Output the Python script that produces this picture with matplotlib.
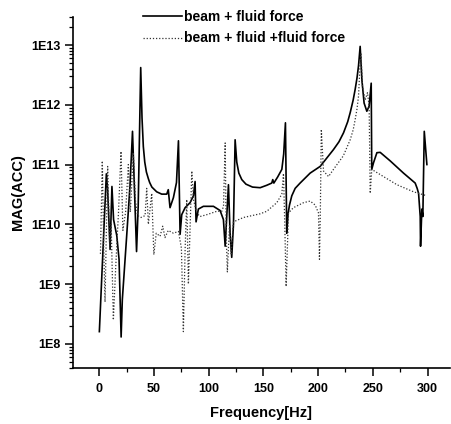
import matplotlib
matplotlib.use("Agg")
import matplotlib.pyplot as plt
from matplotlib.ticker import FixedLocator, FuncFormatter, LogLocator, MultipleLocator, NullFormatter

# ---- data ----
freq_solid = [0.0, 6.4, 7.5, 9.8, 11.5, 13.0, 15.9, 18.0, 19.9, 21.0, 25.0, 28.0, 30.3,
              34.0, 35.5, 37.8, 39.0, 40.2, 41.5, 43.0, 44.8, 46.0, 48.0, 52.4, 57.0,
              61.6, 63.0, 64.6, 67.7, 70.5, 72.3, 73.8, 75.3, 78.4, 82.9, 86.0, 87.5,
              88.4, 90.5, 95.1, 104.3, 110.4, 113.4, 115.0, 118.0, 119.5, 121.0, 122.6,
              124.1, 125.6, 127.5, 130.2, 134.0, 140.0, 147.0, 153.0, 157.6, 158.5,
              159.5, 163.0, 166.8, 168.5, 170.1, 171.3, 172.5, 173.8, 175.9, 179.0,
              183.5, 192.7, 201.8, 214.0, 219.0, 223.2, 227.0, 229.3, 232.0, 233.8,
              235.5, 236.9, 238.4, 240.0, 242.0, 244.5, 246.6, 248.5, 249.0, 250.6,
              253.7, 256.7, 265.9, 278.0, 285.0, 288.7, 290.5, 291.8, 293.3, 293.6,
              294.8, 295.7, 297.0, 299.4]
mag_solid = [1.6e8, 7.0e10, 4.0e10, 3.8e9, 4.3e10, 1.2e10, 6.5e9, 2.6e9, 1.3e8, 5.5e8,
             6.5e9, 4.4e10, 3.6e11, 3.5e9, 2.0e10, 4.2e12, 6.0e11, 2.0e11, 1.1e11,
             7.5e10, 5.8e10, 5.0e10, 4.2e10, 3.5e10, 3.2e10, 3.2e10, 3.8e10, 1.9e10,
             2.8e10, 5.0e10, 2.5e11, 6.8e9, 1.45e10, 1.9e10, 2.3e10, 3.0e10, 5.2e10,
             1.1e10, 1.8e10, 2.0e10, 2.0e10, 1.7e10, 1.2e10, 4.3e9, 4.6e10, 7.1e9,
             2.8e9, 1.0e10, 2.6e11, 1.1e11, 7.2e10, 5.6e10, 4.7e10, 4.2e10, 4.1e10,
             4.5e10, 4.9e10, 5.6e10, 4.9e10, 6.2e10, 8.3e10, 1.5e11, 5.0e11, 7.1e9,
             1.5e10, 2.1e10, 3.0e10, 4.0e10, 4.9e10, 7.2e10, 9.3e10, 1.78e11, 2.4e11,
             3.4e11, 5.2e11, 7.4e11, 1.2e12, 1.8e12, 2.8e12, 4.5e12, 9.5e12, 2.6e12,
             1.07e12, 7.8e11, 9.5e11, 2.3e12, 8.3e10, 1.07e11, 1.58e11, 1.6e11,
             1.15e11, 7.2e10, 5.6e10, 4.9e10, 4.0e10, 3.3e10, 1.35e10, 4.3e9, 1.8e10,
             1.35e10, 3.6e11, 1.0e11]

freq_dot = [1.0, 2.7, 4.0, 5.2, 6.3, 7.6, 9.5, 10.8, 12.8, 15.0, 17.5, 19.8, 21.5, 24.0,
            26.5, 28.3, 31.0, 33.0, 35.0, 38.0, 41.8, 43.3, 44.8, 47.9, 49.8, 52.0,
            55.5, 57.9, 60.0, 63.0, 67.7, 72.3, 75.0, 76.8, 78.4, 79.9, 81.4, 84.5,
            86.0, 89.0, 92.0, 98.2, 107.3, 111.9, 113.5, 115.0, 116.0, 117.0, 119.0,
            120.5, 122.6, 131.7, 147.0, 153.0, 162.2, 166.8, 168.3, 169.5, 170.7,
            172.9, 177.4, 186.6, 192.7, 197.3, 200.3, 201.2, 202.0, 202.9, 204.9,
            209.5, 214.0, 223.0, 229.3, 232.0, 233.8, 235.5, 236.9, 238.4, 239.2,
            240.5, 243.0, 245.1, 246.6, 247.6, 249.0, 256.7, 272.0, 287.2, 291.8, 299.4]
mag_dot = [3.2e9, 1.15e11, 4.0e9, 5.0e8, 6.3e9, 9.3e10, 4.0e9, 1.0e10, 2.5e8, 2.0e9,
           1.6e10, 1.66e11, 7.9e9, 1.6e10, 1.0e11, 1.6e10, 1.6e11, 2.5e10, 1.4e10,
           1.3e10, 1.4e10, 4.0e10, 1.0e10, 3.3e10, 3.1e9, 7.1e9, 6.3e9, 9.3e9, 6.0e9,
           7.9e9, 7.1e9, 7.6e9, 4.0e9, 1.6e8, 3.8e9, 2.6e10, 1.0e9, 7.8e10, 2.6e10,
           1.55e10, 1.35e10, 1.45e10, 1.65e10, 1.65e10, 2.0e10, 2.3e11, 6.3e9, 1.6e9,
           1.0e10, 3.2e9, 1.1e10, 1.3e10, 1.5e10, 1.65e10, 2.3e10, 3.2e10, 7.1e10,
           1.0e10, 9.1e8, 1.55e10, 1.9e10, 2.3e10, 2.45e10, 2.1e10, 1.55e10, 2.6e9,
           1.6e10, 3.9e11, 7.8e10, 6.3e10, 8.3e10, 1.4e11, 2.6e11, 3.8e11, 5.6e11,
           8.5e11, 1.4e12, 5.0e12, 7.1e12, 2.0e12, 1.2e12, 1.6e12, 9.5e11, 3.3e10,
           8.3e10, 6.8e10, 4.6e10, 3.5e10, 3.3e10, 3.0e10]

x_ticks = [0, 50, 100, 150, 200, 250, 300]
y_ticks = [1e8, 1e9, 1e10, 1e11, 1e12, 1e13]
y_tick_labels = ["1E8", "1E9", "1E10", "1E11", "1E12", "1E13"]
label_solid = "beam + fluid force"
label_dot = "beam + fluid +fluid force"

plt.rcParams['font.family'] = ['Liberation Sans', 'DejaVu Sans']
plt.rcParams['font.weight'] = 'bold'

fig = plt.figure(figsize=(4.52, 4.24), dpi=100)
ax = fig.add_axes([0.161, 0.133, 0.835, 0.828])

ax.plot(freq_solid, mag_solid, color='black', lw=1.2, label=label_solid)
ax.plot(freq_dot, mag_dot, color='#333333', lw=0.9, linestyle=(0, (1, 1.5)), label=label_dot)

ax.set_yscale('log')
ax.set_xlim(-24.3, 320.7)
ax.set_ylim(4.0e7, 3.0e13)

ax.spines['top'].set_visible(False)
ax.spines['right'].set_visible(False)
ax.spines['left'].set_linewidth(1.2)
ax.spines['bottom'].set_linewidth(1.2)

ax.xaxis.set_major_locator(FixedLocator(x_ticks))
ax.xaxis.set_minor_locator(MultipleLocator(25))
ax.yaxis.set_major_locator(FixedLocator(y_ticks))
ax.yaxis.set_major_formatter(FuncFormatter(lambda v, p: y_tick_labels[y_ticks.index(v)] if v in y_ticks else ""))
ax.yaxis.set_minor_locator(LogLocator(base=10, subs=[2, 3, 4, 5, 6, 7, 8, 9], numticks=20))
ax.yaxis.set_minor_formatter(NullFormatter())

ax.tick_params(axis='both', which='major', direction='out', length=6, width=1.1,
               labelsize=9, pad=3)
ax.tick_params(axis='x', which='major', pad=5)
ax.tick_params(axis='both', which='minor', direction='out', length=3, width=0.9)
for lab in ax.get_xticklabels() + ax.get_yticklabels():
    lab.set_fontweight('bold')

ax.set_xlabel("Frequency[Hz]", fontsize=10.5, fontweight='bold', labelpad=8)
ax.set_ylabel("MAG(ACC)", fontsize=10.5, fontweight='bold', labelpad=4)

ax.legend(loc='upper left', bbox_to_anchor=(0.316, 0.977), bbox_transform=fig.transFigure,
          frameon=False, handlelength=2.8, handletextpad=0.2,
          borderpad=0, borderaxespad=0, labelspacing=0.55,
          prop={'weight': 'bold', 'size': 10})

fig.savefig("out.png", dpi=100)
